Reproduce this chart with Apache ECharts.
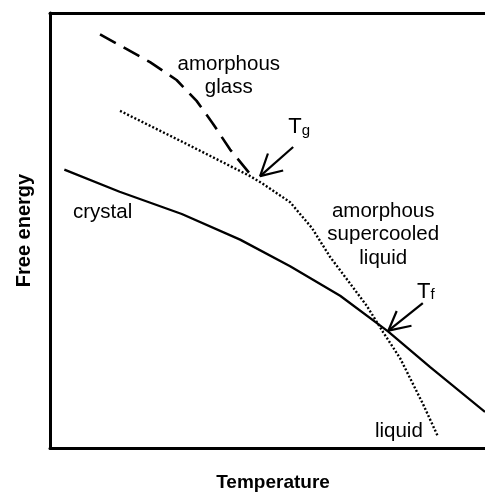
<!DOCTYPE html>
<html>
<head>
<meta charset="utf-8">
<script src="https://cdn.jsdelivr.net/npm/echarts@6/dist/echarts.min.js"></script>
<style>html,body{margin:0;padding:0;background:#fff}#c{width:485px;height:497px}</style>
</head>
<body>
<div id="c"></div>
<script>
// Crystal free energy (solid)
const crystal = [[3.3,64.0],[16.0,58.9],[30.3,53.8],[43.7,47.9],[55.2,41.8],[66.7,35.0],[77.7,26.8],[87.4,18.6],[100,8.3]];
// Amorphous supercooled liquid / liquid (dotted)
const liquid = [[16.1,77.5],[31.0,70.1],[46.0,62.5],[49.0,60.7],[55.2,56.5],[60.2,50.6],[64.4,43.9],[69.0,37.8],[72.8,32.7],[76.6,26.6],[80.5,20.6],[82.0,17.6],[85.7,10.2],[89.2,2.6]];
// Amorphous glass (dashed)
const glass = [[11.5,95.1],[23.0,88.7],[29.1,84.6],[33.7,79.8],[37.5,74.5],[41.4,68.6],[46.4,62.5]];
// Arrows (shaft: tail -> tip, head: barb - tip - barb)
const tgShaft = [[55.9,69.2],[48.3,62.5]];
const tgHead = [[50.1,67.7],[48.3,62.5],[53.6,63.8]];
const tfShaft = [[85.7,33.3],[77.8,27.0]];
const tfHead = [[79.7,31.5],[77.8,27.0],[83.1,28.1]];
// Text annotations (centre, in data units)
const labels = [
  {text:'amorphous\nglass', at:[41.1,85.6]},
  {text:'amorphous\nsupercooled\nliquid', at:[76.6,49.1]},
  {text:'crystal', at:[12.1,54.2]},
  {text:'liquid', at:[80.2,3.9]},
  {text:'{T|T}{s|g}', at:[57.3,73.7]},
  {text:'{T|T}{s|f}', at:[86.4,35.9]}
];

const FONT = 'Liberation Sans, Arial, Helvetica, sans-serif';
const chart = echarts.init(document.getElementById('c'));
const line = (data, type, width) => ({
  type:'line', data, symbol:'none', silent:true, animation:false,
  lineStyle:{color:'#000', width, type, opacity:1}
});
chart.setOption({
  animation:false,
  grid:{left:50, right:0, top:13, bottom:38.5},
  xAxis:[{
    type:'value', min:0, max:100, position:'bottom',
    name:'Temperature', nameLocation:'middle', nameGap:25,
    nameTextStyle:{fontFamily:FONT, fontWeight:'bold', fontSize:19, color:'#000', padding:[0,0,0,11]},
    axisLine:{show:true, lineStyle:{color:'#000', width:3}},
    axisTick:{show:false}, axisLabel:{show:false}, splitLine:{show:false}
  },{
    type:'value', min:0, max:100, position:'top',
    axisLine:{show:true, lineStyle:{color:'#000', width:3}},
    axisTick:{show:false}, axisLabel:{show:false}, splitLine:{show:false}
  }],
  yAxis:{
    type:'value', min:0, max:100,
    name:'Free energy', nameLocation:'middle', nameGap:16, nameRotate:90,
    nameTextStyle:{fontFamily:FONT, fontWeight:'bold', fontSize:20, color:'#000'},
    axisLine:{show:true, lineStyle:{color:'#000', width:3}},
    axisTick:{show:false}, axisLabel:{show:false}, splitLine:{show:false}
  },
  series:[
    line(crystal,'solid',2.3),
    line(liquid,[2,2],2.4),
    line(glass,[18,9],2.6),
    line(tgShaft,'solid',2.2), line(tgHead,'solid',2.2),
    line(tfShaft,'solid',2.2), line(tfHead,'solid',2.2),
    {
      type:'scatter', symbolSize:0, silent:true, animation:false,
      itemStyle:{opacity:1},
      data: labels.map(l => ({value:l.at, name:l.text})),
      label:{
        show:true, position:'inside', formatter:p => p.name, opacity:1,
        fontFamily:FONT, fontSize:20.5, lineHeight:23.5, color:'#000', align:'center',
        textBorderWidth:0,
        rich:{
          T:{fontFamily:FONT, fontSize:22, lineHeight:22, color:'#000', verticalAlign:'bottom'},
          s:{fontFamily:FONT, fontSize:15, lineHeight:10, color:'#000', verticalAlign:'bottom'}
        }
      }
    }
  ]
});
</script>
</body>
</html>
